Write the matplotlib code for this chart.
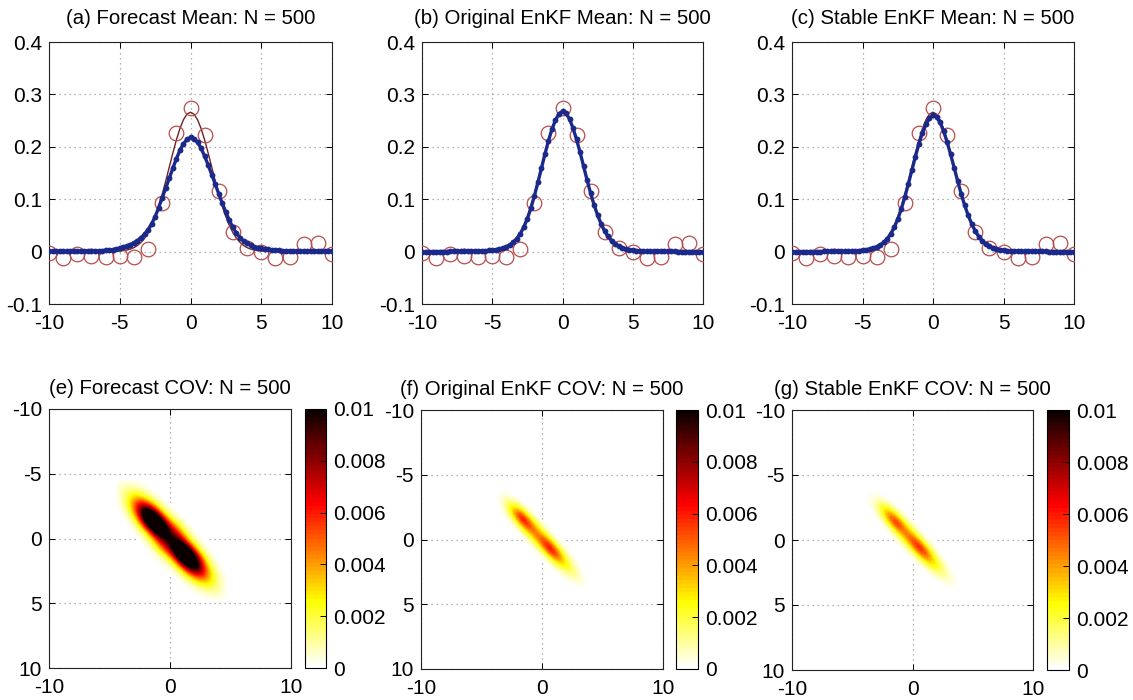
import numpy as np
import matplotlib
matplotlib.use("Agg")
import matplotlib.pyplot as plt

plt.rcParams["font.family"] = ["Liberation Sans", "DejaVu Sans"]

# ---------------------------------------------------------------- data
# state grid (spacing 0.25 from -10 to 10)
x_state = np.arange(-10.0, 10.0 + 1e-9, 0.25)

# observation locations and values
x_obs = np.arange(-10, 11, 1)
y_obs = [-0.003, -0.013, -0.005, -0.008, -0.011, -0.008, -0.011, 0.005, 0.093, 0.226,
         0.275,
         0.223, 0.116, 0.037, 0.007, -0.001, -0.013, -0.011, 0.014, 0.017, -0.005]

# true state
truth = ([0.0] * 16 +
         [0.0001, 0.0002, 0.0003, 0.0006, 0.0010, 0.0018, 0.0030, 0.0048, 0.0076, 0.0117,
          0.0175, 0.0254, 0.0360, 0.0495, 0.0663, 0.0863, 0.1093, 0.1347, 0.1613, 0.1879,
          0.2130, 0.2347, 0.2516, 0.2623] +
         [0.2660] +
         [0.2623, 0.2516, 0.2347, 0.2130, 0.1879, 0.1613, 0.1347, 0.1093, 0.0863, 0.0663,
          0.0495, 0.0360, 0.0254, 0.0175, 0.0117, 0.0076, 0.0048, 0.0030, 0.0018, 0.0010,
          0.0006, 0.0003, 0.0002, 0.0001] +
         [0.0] * 16)

# forecast ensemble mean
forecast_mean = [0.0002, 0.0002, 0.0002, 0.0003, 0.0003, 0.0003, 0.0004, 0.0004, 0.0005, 0.0006,
                 0.0007, 0.0008, 0.0010, 0.0012, 0.0015, 0.0019, 0.0024, 0.0030, 0.0038, 0.0050,
                 0.0066, 0.0085, 0.0108, 0.0135, 0.0168, 0.0210, 0.0265, 0.0335, 0.0420, 0.0530,
                 0.0665, 0.0840, 0.1030, 0.1210, 0.1400, 0.1590, 0.1770, 0.1930, 0.2060, 0.2140,
                 0.2180,
                 0.2155, 0.2085, 0.1970, 0.1820, 0.1650, 0.1470, 0.1285, 0.1100, 0.0920, 0.0750,
                 0.0595, 0.0460, 0.0350, 0.0265, 0.0200, 0.0155, 0.0122, 0.0097, 0.0078, 0.0063,
                 0.0051, 0.0041, 0.0033, 0.0027, 0.0022, 0.0018, 0.0015, 0.0012, 0.0010, 0.0008,
                 0.0007, 0.0006, 0.0005, 0.0004, 0.0004, 0.0003, 0.0003, 0.0002, 0.0002, 0.0002]

# analysis mean, original EnKF
original_mean = [0.0000, 0.0000, 0.0001, 0.0001, 0.0001, 0.0001, 0.0001, 0.0001, 0.0002, 0.0002,
                 0.0002, 0.0003, 0.0003, 0.0004, 0.0005, 0.0007, 0.0009, 0.0012, 0.0016, 0.0021,
                 0.0028, 0.0037, 0.0050, 0.0068, 0.0094, 0.0130, 0.0180, 0.0250, 0.0345, 0.0470,
                 0.0630, 0.0830, 0.1065, 0.1320, 0.1590, 0.1860, 0.2115, 0.2335, 0.2510, 0.2630,
                 0.2680,
                 0.2640, 0.2530, 0.2355, 0.2140, 0.1895, 0.1630, 0.1365, 0.1115, 0.0890, 0.0695,
                 0.0530, 0.0395, 0.0290, 0.0210, 0.0150, 0.0107, 0.0076, 0.0054, 0.0039, 0.0028,
                 0.0020, 0.0015, 0.0011, 0.0008, 0.0006, 0.0005, 0.0004, 0.0003, 0.0003, 0.0002,
                 0.0002, 0.0002, 0.0001, 0.0001, 0.0001, 0.0001, 0.0001, 0.0000, 0.0000, 0.0000]

# analysis mean, stable EnKF
stable_mean = [0.0000, 0.0000, 0.0000, 0.0001, 0.0001, 0.0001, 0.0001, 0.0001, 0.0001, 0.0002,
               0.0002, 0.0002, 0.0003, 0.0004, 0.0005, 0.0006, 0.0008, 0.0011, 0.0015, 0.0020,
               0.0027, 0.0036, 0.0049, 0.0067, 0.0092, 0.0127, 0.0176, 0.0245, 0.0338, 0.0462,
               0.0618, 0.0812, 0.1040, 0.1290, 0.1550, 0.1810, 0.2055, 0.2265, 0.2430, 0.2545,
               0.2600,
               0.2565, 0.2465, 0.2300, 0.2090, 0.1855, 0.1600, 0.1345, 0.1100, 0.0880, 0.0690,
               0.0525, 0.0392, 0.0288, 0.0208, 0.0148, 0.0105, 0.0075, 0.0053, 0.0038, 0.0028,
               0.0020, 0.0015, 0.0011, 0.0008, 0.0006, 0.0005, 0.0004, 0.0003, 0.0003, 0.0002,
               0.0002, 0.0002, 0.0001, 0.0001, 0.0001, 0.0001, 0.0001, 0.0000, 0.0000, 0.0000]

# diagonal of each covariance matrix on the central part of the grid (-5 .. 5)
var_forecast = [0.0, 0.0, 0.0001, 0.0003, 0.0006, 0.0010, 0.0016, 0.0025, 0.0037, 0.0053,
                0.0072, 0.0093, 0.0113, 0.0132, 0.0148, 0.0155, 0.0150, 0.0136, 0.0119, 0.0106,
                0.0101,
                0.0106, 0.0119, 0.0136, 0.0150, 0.0155, 0.0150, 0.0136, 0.0118, 0.0098, 0.0078,
                0.0060, 0.0044, 0.0031, 0.0021, 0.0014, 0.0009, 0.0005, 0.0003, 0.0001, 0.0]
var_original = [0.0, 0.0, 0.0, 0.0, 0.0, 0.0001, 0.0002, 0.0005, 0.0010, 0.0017,
                0.0026, 0.0037, 0.0049, 0.0058, 0.0060, 0.0057, 0.0052, 0.0048, 0.0046, 0.0047,
                0.0051,
                0.0056, 0.0060, 0.0061, 0.0057, 0.0049, 0.0040, 0.0032, 0.0025, 0.0019, 0.0014,
                0.0010, 0.0007, 0.0004, 0.0002, 0.0001, 0.0, 0.0, 0.0, 0.0, 0.0]
var_stable = [0.0, 0.0, 0.0, 0.0, 0.0, 0.0001, 0.0002, 0.0004, 0.0008, 0.0014,
              0.0022, 0.0031, 0.0040, 0.0048, 0.0053, 0.0054, 0.0051, 0.0047, 0.0046, 0.0048,
              0.0052,
              0.0056, 0.0058, 0.0057, 0.0052, 0.0045, 0.0037, 0.0030, 0.0024, 0.0018, 0.0013,
              0.0009, 0.0006, 0.0004, 0.0002, 0.0001, 0.0, 0.0, 0.0, 0.0, 0.0]
# correlation length of each covariance
corr_len = {"forecast": 0.95, "original": 0.6, "stable": 0.6}

top_titles = ["(a) Forecast Mean: N = 500", "(b) Original EnKF Mean: N = 500",
              "(c) Stable EnKF Mean: N = 500"]
bottom_titles = ["(e) Forecast COV: N = 500", "(f) Original EnKF COV: N = 500",
                 "(g) Stable EnKF COV: N = 500"]
top_xticks = [-10, -5, 0, 5, 10]
top_xticklabels = ["-10", "-5", "0", "5", "10"]
top_yticks = [-0.1, 0.0, 0.1, 0.2, 0.3, 0.4]
top_yticklabels = ["-0.1", "0", "0.1", "0.2", "0.3", "0.4"]
cov_xticks = [-10, 0, 10]
cov_xticklabels = ["-10", "0", "10"]
cov_yticks = [-10, -5, 0, 5, 10]
cov_yticklabels = ["-10", "-5", "0", "5", "10"]
cbar_ticks = [0, 0.002, 0.004, 0.006, 0.008, 0.01]
cbar_ticklabels = ["0", "0.002", "0.004", "0.006", "0.008", "0.01"]


def covariance(var_core, length):
    var = np.concatenate([np.zeros(20), np.asarray(var_core), np.zeros(20)])
    sd = np.sqrt(var)
    d = x_state[:, None] - x_state[None, :]
    return np.outer(sd, sd) * np.exp(-d ** 2 / (2.0 * length ** 2))


# ---------------------------------------------------------------- style
FS = 15
FS_TITLE = 14.7
BLUE = "#1b2a8a"
CIRCLE = "#b84c4c"
TRUTH = "#6e2222"
GRID_KW = dict(color="#9a9a9a", linestyle=(0, (1, 3)), linewidth=0.9)


def style_axes(ax):
    ax.tick_params(direction="in", length=4, width=0.7, top=True, right=True,
                   labelsize=FS, colors="black")
    ax.tick_params(axis="x", pad=7)
    ax.tick_params(axis="y", pad=5)
    for s in ax.spines.values():
        s.set_linewidth(0.8)
        s.set_color("#222222")
    ax.grid(True, **GRID_KW)
    ax.set_axisbelow(True)


fig = plt.figure(figsize=(11.33, 7.0), dpi=100)
W, H = 1133.0, 700.0


def frac(l, t, r, b):
    return [l / W, 1 - b / H, (r - l) / W, (b - t) / H]


top_boxes = [(49, 42, 332, 304), (422, 42, 703, 304), (792, 42, 1074, 304)]
means = [forecast_mean, original_mean, stable_mean]

for box, title, mean in zip(top_boxes, top_titles, means):
    ax = fig.add_axes(frac(*box))
    ax.plot(x_state, truth, color=TRUTH, linewidth=1.0, zorder=2)
    ax.plot(x_obs, y_obs, linestyle="none", marker="o", markersize=10.5,
            markerfacecolor="none", markeredgecolor=CIRCLE, markeredgewidth=0.9, zorder=3)
    ax.plot(x_state, mean, color=BLUE, linewidth=2.4, marker="o", markersize=4.2,
            markeredgewidth=0, zorder=4)
    ax.set_xlim(-10, 10)
    ax.set_ylim(-0.1, 0.4)
    ax.set_xticks(top_xticks)
    ax.set_xticklabels(top_xticklabels)
    ax.set_yticks(top_yticks)
    ax.set_yticklabels(top_yticklabels)
    style_axes(ax)
    ax.set_title(title, fontsize=FS_TITLE, pad=13)

cmap = plt.get_cmap("hot_r", 64).copy()
cmap.set_bad(alpha=0.0)

bottom_boxes = [(49, 409, 291, 668), (421, 410, 663, 669), (792, 410, 1033, 670)]
cbar_boxes = [(305, 409, 326, 668), (676, 410, 698, 669), (1047, 410, 1069, 670)]
cov_sets = [(var_forecast, corr_len["forecast"]),
            (var_original, corr_len["original"]),
            (var_stable, corr_len["stable"])]

h = 0.125
for box, cbox, title, (vc, L) in zip(bottom_boxes, cbar_boxes, bottom_titles, cov_sets):
    ax = fig.add_axes(frac(*box))
    C = covariance(vc, L)
    Cm = np.ma.masked_less(C, 4e-5)
    im = ax.imshow(Cm, cmap=cmap, vmin=0, vmax=0.01, interpolation="bilinear",
                   extent=[-10 - h, 10 + h, 10 + h, -10 - h], aspect="auto", zorder=1)
    ax.set_xlim(-10, 10)
    ax.set_ylim(10, -10)
    ax.set_xticks(cov_xticks)
    ax.set_xticklabels(cov_xticklabels)
    ax.set_yticks(cov_yticks)
    ax.set_yticklabels(cov_yticklabels)
    style_axes(ax)
    ax.set_title(title, fontsize=FS_TITLE, pad=11)

    cax = fig.add_axes(frac(*cbox))
    cb = fig.colorbar(im, cax=cax, ticks=cbar_ticks)
    cb.ax.set_yticklabels(cbar_ticklabels)
    cb.ax.tick_params(direction="in", length=4, width=0.7, labelsize=FS, pad=5)
    cb.outline.set_linewidth(0.8)

fig.savefig("out.png", dpi=100)
